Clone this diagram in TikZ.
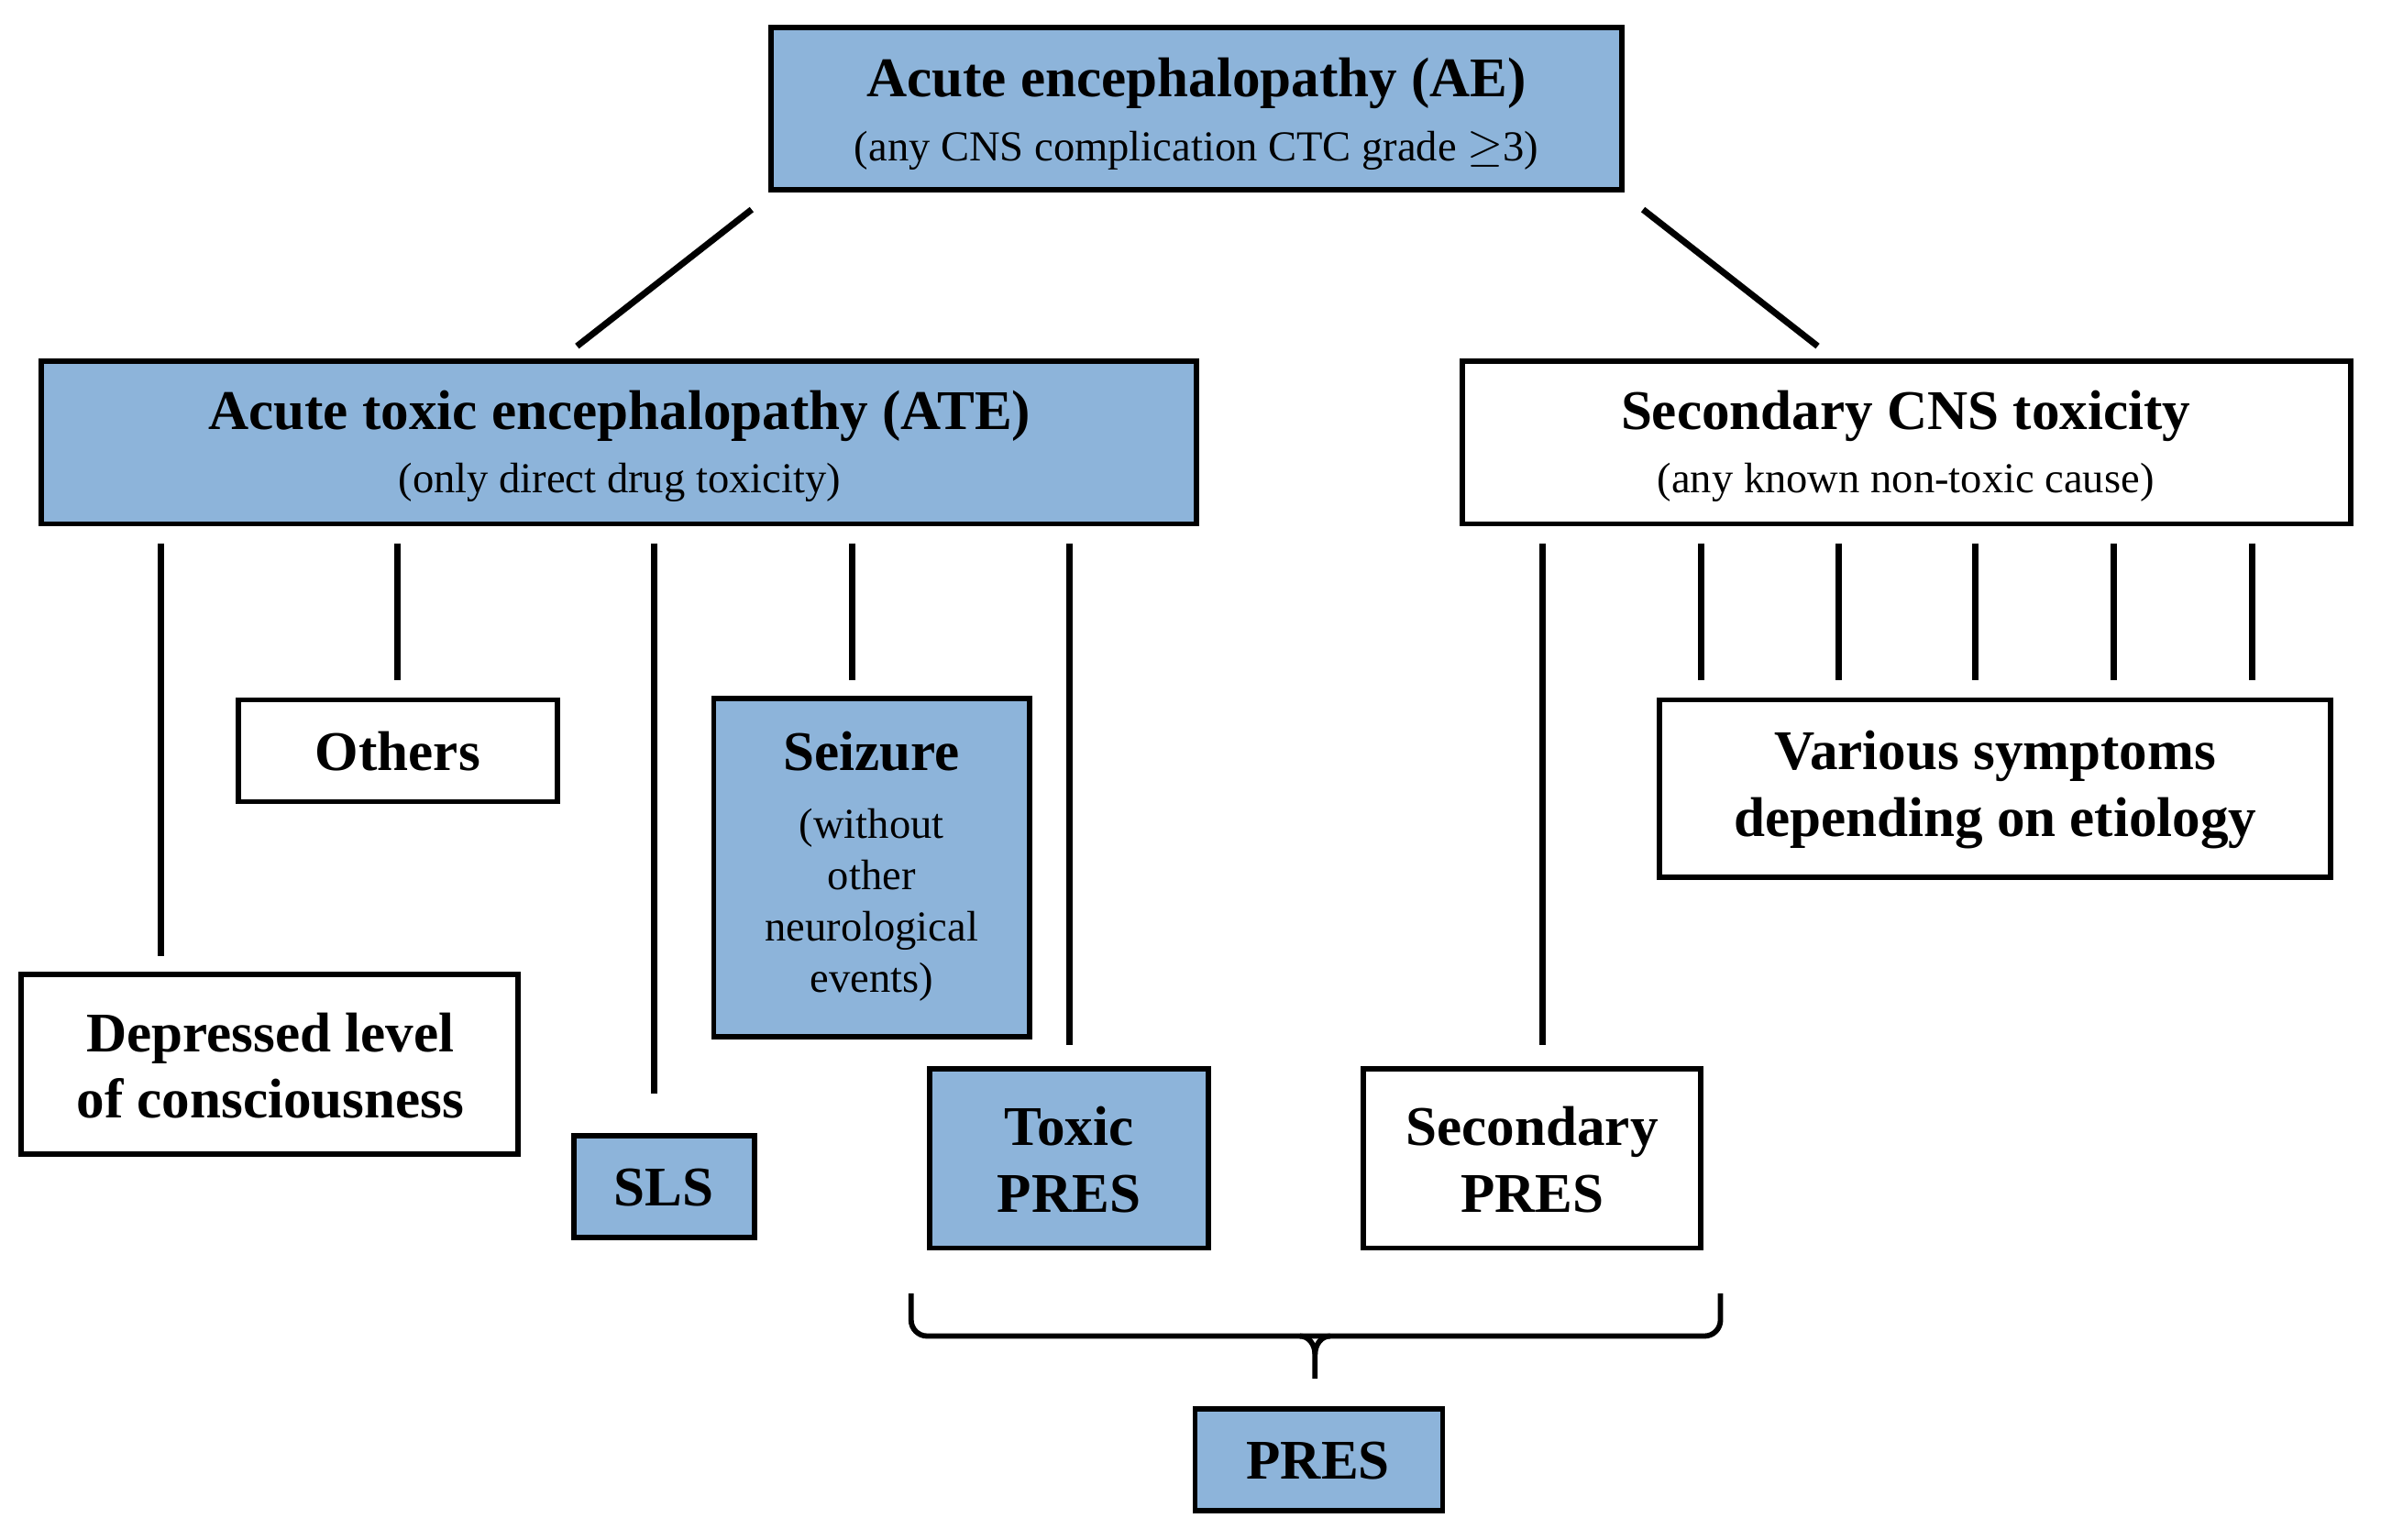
\documentclass[tikz,border=0pt]{standalone}
\usepackage{fontspec}
\setmainfont{Liberation Serif}
\begin{document}
\begin{tikzpicture}[x=0.02cm,y=-0.02cm,
 box/.style={draw=black,line width=2pt,inner sep=0pt},
 blue/.style={fill={rgb,255:red,141;green,180;blue,218}},
 ln/.style={line width=2.4pt},
 big/.style={font=\bfseries\fontsize{21}{25}\selectfont,align=center},
 sm/.style={font=\fontsize{16}{21}\selectfont}]
\useasboundingbox (0,0) rectangle (1568,1014);
% boxes
\draw[box,blue] (508,18) rectangle (1068,125);
\node[big] (ae) at (788,55) {Acute encephalopathy (AE)};
\node[sm] (aes) at (788,99) {(any CNS complication CTC grade $\geq$3)};
\draw[box,blue] (27,238) rectangle (788,345);
\node[big] (ate) at (408,274) {Acute toxic encephalopathy (ATE)};
\node[sm] (ates) at (408,318) {(only direct drug toxicity)};
\draw[box] (963,238) rectangle (1548,345);
\node[big] (sec) at (1255,274) {Secondary CNS toxicity};
\node[sm] (secs) at (1255,318) {(any known non-toxic cause)};
\draw[box] (157,461) rectangle (367,528);
\node[big] (oth) at (262,495) {Others};
\draw[box,blue] (470,460) rectangle (678,683);
\node[big] (seiz) at (574,495) {Seizure};
\node[sm,align=center,font=\fontsize{16}{19.3}\selectfont] (seizs) at (574,596) {(without\\other\\neurological\\events)};
\draw[box] (1093,461) rectangle (1535,578);
\node[big,font=\bfseries\fontsize{21}{25}\selectfont] (var) at (1314,520) {Various symptoms\\depending on etiology};
\draw[box] (14,642) rectangle (341,760);
\node[big] (dep) at (178,702) {Depressed level\\of consciousness};
\draw[box,blue] (378,748) rectangle (497,815);
\node[big] (sls) at (437,782) {SLS};
\draw[box,blue] (612,704) rectangle (796,822);
\node[big] (tox) at (704,764) {Toxic\\PRES};
\draw[box] (898,704) rectangle (1120,822);
\node[big] (spres) at (1009,764) {Secondary\\PRES};
\draw[box,blue] (787,928) rectangle (950,995);
\node[big] (pres) at (868,962) {PRES};
% connectors
\coordinate (a1) at (495,138); \coordinate (a2) at (380,228);
\coordinate (b1) at (1082,138); \coordinate (b2) at (1197,228);
\draw[ln] (a1)--(a2); \draw[ln] (b1)--(b2);
\foreach \x/\y in {106/630,262/448,431/720,561/448,704/688,1016/688,1120/448,1211/448,1301/448,1392/448,1483/448}
 \draw[ln] (\x,358)--(\x,\y);
% brace
\coordinate (bl) at (600,852); \coordinate (br) at (1133,852); \coordinate (bt) at (866,908);
\draw[line width=2pt,rounded corners=6pt] (bl)--(600,880)--(866,880)--(1133,880)--(br);
\draw[line width=2pt] (856,880) to[out=0,in=90] (866,892)--(bt);
\draw[line width=2pt] (876,880) to[out=180,in=90] (866,892);
\end{tikzpicture}
\end{document}
